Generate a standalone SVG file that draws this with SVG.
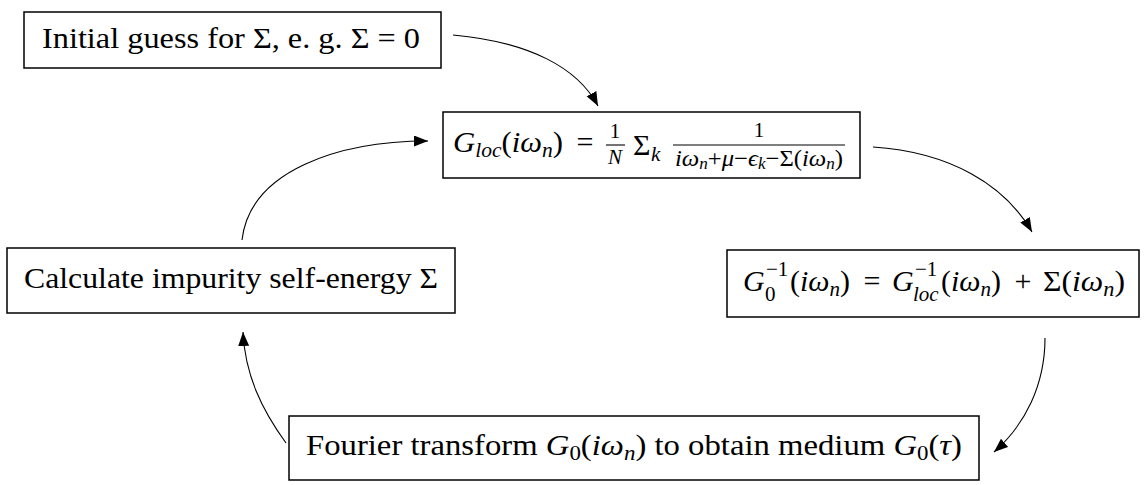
<svg xmlns="http://www.w3.org/2000/svg" width="1147" height="485" viewBox="0 0 1147 485">
<style>
.box{fill:#fff;stroke:#000;stroke-width:1.5}
.t{font-family:"Liberation Serif","DejaVu Serif",serif;font-size:30px;fill:#000}
.s{font-size:21px}
.d{font-size:23px}
.xs{font-size:16px}
.i{font-style:italic}
.c{stroke:#000;stroke-width:1.1;fill:none}
.bar{stroke:#000;stroke-width:1.1}
</style>
<defs>
<marker id="ah" markerUnits="userSpaceOnUse" markerWidth="15" markerHeight="12" refX="14" refY="5.5" orient="auto">
<path d="M0,0 L14,5.5 L0,11 z" fill="#000"/>
</marker>
</defs>
<g id="connectors">
<path class="c" d="M453,35 C530,42 578,68 598,106" marker-end="url(#ah)"/>
<path class="c" d="M873,147 C950,152 1005,185 1032,232" marker-end="url(#ah)"/>
<path class="c" d="M1045,338 C1045,385 1025,425 994,452" marker-end="url(#ah)"/>
<path class="c" d="M286,443 C262,410 245,375 243,332" marker-end="url(#ah)"/>
<path class="c" d="M242,240 C250,170 340,141 428,141" marker-end="url(#ah)"/>
</g>
<g id="init">
<rect class="box" x="24" y="12" width="417" height="56"/>
<text class="t" x="42" y="48" textLength="378" lengthAdjust="spacingAndGlyphs">Initial guess for Σ, e. g.  Σ = 0</text>
</g>
<g id="gloc">
<rect class="box" x="443" y="112" width="417" height="66"/>
<text class="t" x="453" y="152" textLength="110" lengthAdjust="spacingAndGlyphs"><tspan class="i">G</tspan><tspan class="i s" dy="5">loc</tspan><tspan dy="-5">(</tspan><tspan class="i">iω</tspan><tspan class="i s" dy="5">n</tspan><tspan dy="-5">)</tspan></text>
<text class="t" x="585" y="152" text-anchor="middle">=</text>
<text class="t s" x="615" y="138" text-anchor="middle">1</text>
<line class="bar" x1="606" y1="145" x2="625" y2="145"/>
<text class="t s i" x="615" y="164" text-anchor="middle">N</text>
<text class="t" x="633" y="155">Σ</text>
<text class="t s i" x="651" y="161">k</text>
<text class="t s" x="759" y="137" text-anchor="middle">1</text>
<line class="bar" x1="673" y1="145" x2="845" y2="145"/>
<text class="t d" x="675" y="166" textLength="168" lengthAdjust="spacingAndGlyphs"><tspan class="i">iω</tspan><tspan class="i xs" dy="3">n</tspan><tspan dy="-3">+</tspan><tspan class="i">μ</tspan><tspan>−</tspan><tspan class="i">ϵ</tspan><tspan class="i xs" dy="3">k</tspan><tspan dy="-3">−Σ(</tspan><tspan class="i">iω</tspan><tspan class="i xs" dy="3">n</tspan><tspan dy="-3">)</tspan></text>
</g>
<g id="g0inv">
<rect class="box" x="727" y="250" width="412" height="67"/>
<text class="t i" x="743" y="291">G</text>
<text class="t s" x="766" y="276">−1</text>
<text class="t s" x="765" y="301">0</text>
<text class="t" x="790" y="291" textLength="60" lengthAdjust="spacingAndGlyphs">(<tspan class="i">iω</tspan><tspan class="i s" dy="5">n</tspan><tspan dy="-5">)</tspan></text>
<text class="t" x="872" y="291" text-anchor="middle">=</text>
<text class="t i" x="892" y="291">G</text>
<text class="t s" x="915" y="276">−1</text>
<text class="t s i" x="913" y="301">loc</text>
<text class="t" x="941" y="291" textLength="60" lengthAdjust="spacingAndGlyphs">(<tspan class="i">iω</tspan><tspan class="i s" dy="5">n</tspan><tspan dy="-5">)</tspan></text>
<text class="t" x="1023" y="291" text-anchor="middle">+</text>
<text class="t" x="1043" y="291" textLength="82" lengthAdjust="spacingAndGlyphs">Σ(<tspan class="i">iω</tspan><tspan class="i s" dy="5">n</tspan><tspan dy="-5">)</tspan></text>
</g>
<g id="calc">
<rect class="box" x="7" y="248" width="448" height="65"/>
<text class="t" x="24" y="288" textLength="414" lengthAdjust="spacingAndGlyphs">Calculate impurity self-energy Σ</text>
</g>
<g id="fourier">
<rect class="box" x="289" y="416" width="690" height="64"/>
<text class="t" x="306" y="455" textLength="656" lengthAdjust="spacingAndGlyphs">Fourier transform <tspan class="i">G</tspan><tspan class="s" dy="5">0</tspan><tspan dy="-5">(</tspan><tspan class="i">iω</tspan><tspan class="i s" dy="5">n</tspan><tspan dy="-5">) to obtain medium </tspan><tspan class="i">G</tspan><tspan class="s" dy="5">0</tspan><tspan dy="-5">(</tspan><tspan class="i">τ</tspan>)</text>
</g>
</svg>
